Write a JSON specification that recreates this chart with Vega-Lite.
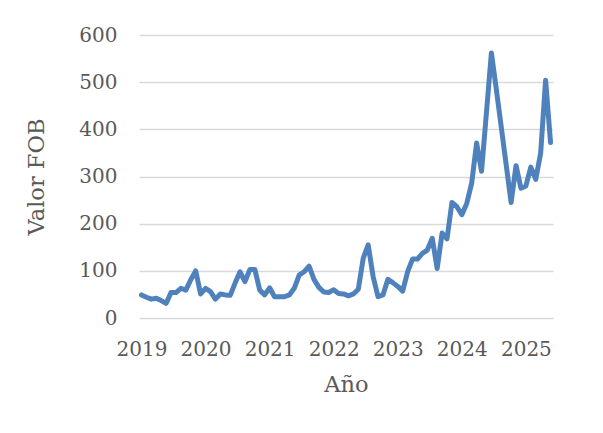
{
  "$schema": "https://vega.github.io/schema/vega-lite/v6.json",
  "autosize": {"type": "none"},
  "width": 414,
  "height": 283,
  "padding": {"left": 139, "top": 35, "right": 50, "bottom": 115},
  "background": "white",
  "config": {
    "view": {"stroke": null},
    "font": "DejaVu Serif"
  },
  "data": {"values": [
    {"mes": "2019-01", "valor": 49}, {"mes": "2019-02", "valor": 44}, {"mes": "2019-03", "valor": 40}, {"mes": "2019-04", "valor": 42},
    {"mes": "2019-05", "valor": 37}, {"mes": "2019-06", "valor": 31}, {"mes": "2019-07", "valor": 54}, {"mes": "2019-08", "valor": 54},
    {"mes": "2019-09", "valor": 63}, {"mes": "2019-10", "valor": 59}, {"mes": "2019-11", "valor": 81}, {"mes": "2019-12", "valor": 100},
    {"mes": "2020-01", "valor": 51}, {"mes": "2020-02", "valor": 63}, {"mes": "2020-03", "valor": 56}, {"mes": "2020-04", "valor": 40},
    {"mes": "2020-05", "valor": 51}, {"mes": "2020-06", "valor": 49}, {"mes": "2020-07", "valor": 48}, {"mes": "2020-08", "valor": 74},
    {"mes": "2020-09", "valor": 98}, {"mes": "2020-10", "valor": 77}, {"mes": "2020-11", "valor": 103}, {"mes": "2020-12", "valor": 103},
    {"mes": "2021-01", "valor": 59}, {"mes": "2021-02", "valor": 49}, {"mes": "2021-03", "valor": 64}, {"mes": "2021-04", "valor": 45},
    {"mes": "2021-05", "valor": 45}, {"mes": "2021-06", "valor": 45}, {"mes": "2021-07", "valor": 49}, {"mes": "2021-08", "valor": 63},
    {"mes": "2021-09", "valor": 91}, {"mes": "2021-10", "valor": 98}, {"mes": "2021-11", "valor": 110}, {"mes": "2021-12", "valor": 82},
    {"mes": "2022-01", "valor": 65}, {"mes": "2022-02", "valor": 55}, {"mes": "2022-03", "valor": 54}, {"mes": "2022-04", "valor": 60},
    {"mes": "2022-05", "valor": 52}, {"mes": "2022-06", "valor": 51}, {"mes": "2022-07", "valor": 47}, {"mes": "2022-08", "valor": 51},
    {"mes": "2022-09", "valor": 61}, {"mes": "2022-10", "valor": 127}, {"mes": "2022-11", "valor": 155}, {"mes": "2022-12", "valor": 88},
    {"mes": "2023-01", "valor": 45}, {"mes": "2023-02", "valor": 49}, {"mes": "2023-03", "valor": 82}, {"mes": "2023-04", "valor": 75},
    {"mes": "2023-05", "valor": 67}, {"mes": "2023-06", "valor": 57}, {"mes": "2023-07", "valor": 98}, {"mes": "2023-08", "valor": 125},
    {"mes": "2023-09", "valor": 125}, {"mes": "2023-10", "valor": 137}, {"mes": "2023-11", "valor": 144}, {"mes": "2023-12", "valor": 169},
    {"mes": "2024-01", "valor": 105}, {"mes": "2024-02", "valor": 180}, {"mes": "2024-03", "valor": 168}, {"mes": "2024-04", "valor": 245},
    {"mes": "2024-05", "valor": 236}, {"mes": "2024-06", "valor": 219}, {"mes": "2024-07", "valor": 243}, {"mes": "2024-08", "valor": 286},
    {"mes": "2024-09", "valor": 371}, {"mes": "2024-10", "valor": 311}, {"mes": "2024-11", "valor": 436}, {"mes": "2024-12", "valor": 562},
    {"mes": "2025-01", "valor": 485}, {"mes": "2025-02", "valor": 405}, {"mes": "2025-03", "valor": 325}, {"mes": "2025-04", "valor": 245},
    {"mes": "2025-05", "valor": 323}, {"mes": "2025-06", "valor": 275}, {"mes": "2025-07", "valor": 280}, {"mes": "2025-08", "valor": 320},
    {"mes": "2025-09", "valor": 294}, {"mes": "2025-10", "valor": 350}, {"mes": "2025-11", "valor": 504}, {"mes": "2025-12", "valor": 372}
  ]},
  "mark": {"type": "line", "color": "#4F81BD", "strokeWidth": 5, "strokeCap": "round", "strokeJoin": "round"},
  "encoding": {
    "x": {
      "field": "mes",
      "type": "ordinal",
      "sort": null,
      "scale": {"type": "point", "padding": 0.5},
      "axis": {
        "title": "Año",
        "values": ["2019-01", "2020-02", "2021-03", "2022-04", "2023-05", "2024-06", "2025-07"],
        "labelExpr": "substring(datum.value, 0, 4)",
        "labelAngle": 0,
        "labelFont": "DejaVu Serif",
        "labelFontSize": 20,
        "labelColor": "#595959",
        "labelPadding": 21,
        "ticks": false,
        "domain": false,
        "grid": false,
        "titleFont": "DejaVu Serif",
        "titleFontSize": 22.5,
        "titleFontWeight": "normal",
        "titleColor": "#595959",
        "titlePadding": 14
      }
    },
    "y": {
      "field": "valor",
      "type": "quantitative",
      "scale": {"domain": [0, 600], "nice": false},
      "axis": {
        "title": "Valor FOB",
        "values": [0, 100, 200, 300, 400, 500, 600],
        "labelFont": "DejaVu Serif",
        "labelFontSize": 20,
        "labelColor": "#595959",
        "labelPadding": 22,
        "ticks": false,
        "domain": false,
        "grid": true,
        "gridColor": "#D9D9D9",
        "gridWidth": 1.5,
        "titleFont": "DejaVu Serif",
        "titleFontSize": 22.5,
        "titleFontWeight": "normal",
        "titleColor": "#595959",
        "titlePadding": 30
      }
    }
  }
}
